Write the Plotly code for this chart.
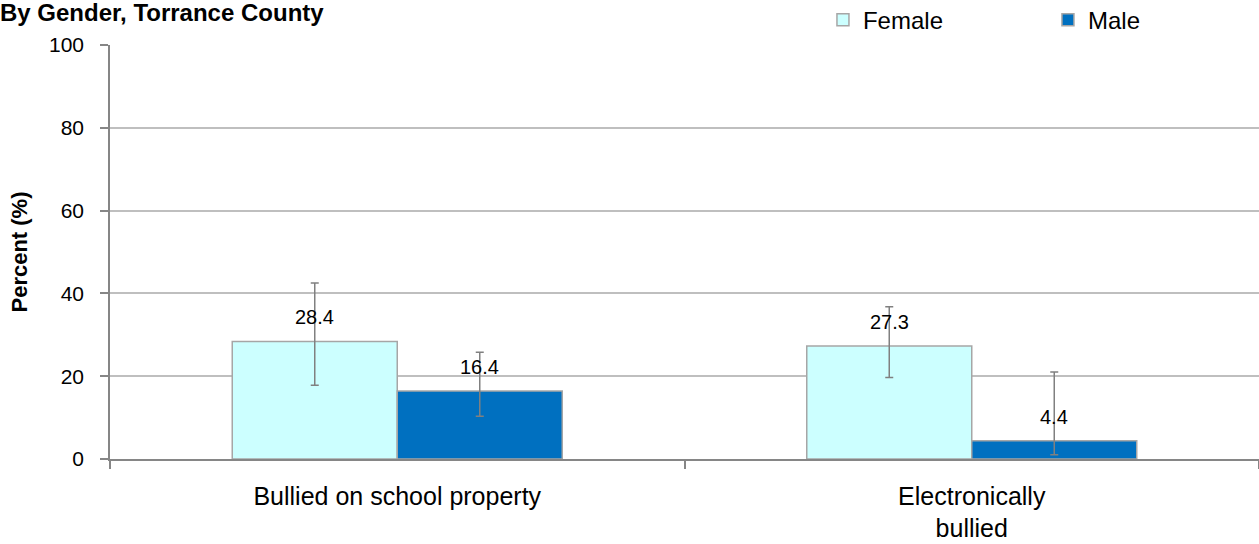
import plotly.graph_objects as go

categories = ["Bullied on school property", "Electronically<br>bullied"]
female = [28.4, 27.3]
male = [16.4, 4.4]
female_upper = [42.5, 36.8]
female_lower = [17.8, 19.7]
male_upper = [25.8, 21.0]
male_lower = [10.3, 1.0]
y_ticks = [0, 20, 40, 60, 80, 100]

FONT = "Liberation Sans"
BARGAP = 0.4256
bar_w = (1 - BARGAP) / 2

fig = go.Figure()
err_style = dict(type="data", symmetric=False, color="#808080", thickness=1.5, width=4)
fig.add_trace(go.Bar(
    name="Female", x=categories, y=female,
    marker=dict(color="#CCFFFF", line=dict(color="#A6A6A6", width=1.5)),
    error_y=dict(array=[u - v for u, v in zip(female_upper, female)],
                 arrayminus=[v - l for v, l in zip(female, female_lower)], **err_style),
))
fig.add_trace(go.Bar(
    name="Male", x=categories, y=male,
    marker=dict(color="#0070C0", line=dict(color="#A6A6A6", width=1.5)),
    error_y=dict(array=[u - v for u, v in zip(male_upper, male)],
                 arrayminus=[v - l for v, l in zip(male, male_lower)], **err_style),
))

annotations = []
for i, (f, m) in enumerate(zip(female, male)):
    for val, off in ((f, -bar_w / 2), (m, bar_w / 2)):
        annotations.append(dict(
            x=i + off, y=val, xref="x", yref="y", text=f"{val:.1f}",
            showarrow=False, yanchor="middle", yshift=24,
            font=dict(family=FONT, size=20, color="#000000"),
        ))

fig.update_layout(
    width=1259, height=544,
    margin=dict(l=110, r=0, t=45, b=85, autoexpand=False),
    paper_bgcolor="white", plot_bgcolor="white",
    barmode="group", bargap=BARGAP, bargroupgap=0,
    font=dict(family=FONT, color="#000000"),
    title=dict(text="<b>By Gender, Torrance County</b>", x=0, xanchor="left", xref="container",
               y=0.993, yanchor="top", yref="container", pad=dict(t=0, l=0),
               font=dict(family=FONT, size=24, color="#000000")),
    legend=dict(orientation="h", x=0.6205, xanchor="left", y=1.06, yanchor="middle",
                font=dict(family=FONT, size=24, color="#000000"),
                entrywidthmode="pixels", entrywidth=180, bgcolor="rgba(0,0,0,0)"),
    annotations=annotations,
    xaxis=dict(showline=True, linecolor="#868686", linewidth=1.5, tickson="boundaries",
               ticks="outside", ticklen=8, tickcolor="#868686", tickwidth=1.5,
               showgrid=False, tickfont=dict(family=FONT, size=25, color="#000000"),
               ticklabelstandoff=14),
    yaxis=dict(range=[0, 100], tickvals=y_ticks, showline=True, linecolor="#868686", linewidth=1.5,
               ticks="outside", ticklen=8, tickcolor="#868686", tickwidth=1.5,
               showgrid=True, gridcolor="#BFBFBF", gridwidth=1.5, zeroline=False,
               tickfont=dict(family=FONT, size=21, color="#000000"), ticklabelstandoff=12,
               title=dict(text="<b>Percent (%)</b>", font=dict(family=FONT, size=22, color="#000000"),
                          standoff=15)),
)

fig.write_html("out.html", config={"displayModeBar": False},
               post_script="document.body.style.margin='0';document.body.style.overflow='hidden';")
